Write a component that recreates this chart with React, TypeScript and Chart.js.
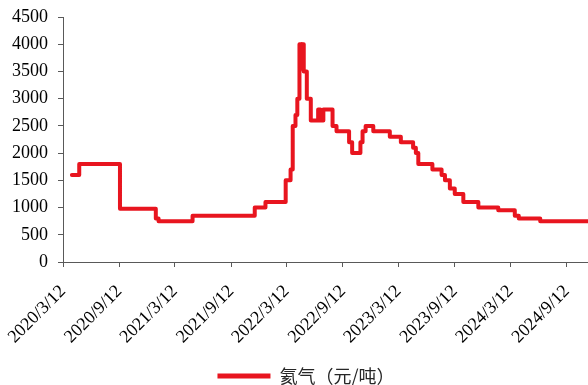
import React, { useEffect, useRef } from 'react';
import { Chart, registerables } from 'chart.js';

Chart.register(...registerables);

const seriesName = '氦气（元/吨）';
const axisStartDate = '2020/3/12';
const axisEndDate = '2024/11/20';

const changeDates = [
  '2020/4/10', '2020/5/4', '2020/9/14', '2021/1/9', '2021/1/18', '2021/5/9',
  '2021/11/28', '2022/1/2', '2022/3/9', '2022/3/25', '2022/4/1', '2022/4/10',
  '2022/4/16', '2022/4/23', '2022/4/29', '2022/5/2', '2022/5/7', '2022/5/17',
  '2022/5/30', '2022/6/23', '2022/6/30', '2022/7/10', '2022/8/9', '2022/8/22',
  '2022/10/2', '2022/10/12', '2022/11/8', '2022/11/15', '2022/11/25', '2022/12/20',
  '2023/2/12', '2023/3/20', '2023/4/29', '2023/5/8', '2023/5/16', '2023/7/1',
  '2023/7/31', '2023/8/11', '2023/8/27', '2023/9/12', '2023/10/10', '2023/11/28',
  '2024/2/1', '2024/3/26', '2024/4/8', '2024/6/17', '2024/11/30',
];

const prices = [
  1600, 1800, 980, 800, 750, 850,
  1000, 1100, 1500, 1700, 2500, 2700,
  3000, 4000, 3550, 4000, 3500, 3000,
  2600, 2800, 2600, 2800, 2500, 2400,
  2200, 2000, 2200, 2400, 2500, 2400,
  2300, 2200, 2100, 2000, 1800, 1700,
  1600, 1500, 1350, 1250, 1100, 1000,
  950, 850, 800, 750, 750,
];

const tickLabels = [
  '2020/3/12', '2020/9/12', '2021/3/12', '2021/9/12', '2022/3/12',
  '2022/9/12', '2023/3/12', '2023/9/12', '2024/3/12', '2024/9/12',
];

const yMin = 0;
const yMax = 4500;
const yStep = 500;

function dayIndex(s: string): number {
  const [y, m, d] = s.split('/').map(Number);
  const [y0, m0, d0] = axisStartDate.split('/').map(Number);
  return Math.round((Date.UTC(y, m - 1, d) - Date.UTC(y0, m0 - 1, d0)) / 86400000);
}

const legendShift = {
  id: 'legendShift',
  afterLayout(chart: any) {
    if (chart.legend) {
      chart.legend.left += 12;
      chart.legend.right += 12;
    }
  },
};

export default function App() {
  const ref = useRef<HTMLCanvasElement | null>(null);

  useEffect(() => {
    if (!ref.current) return;
    const points = changeDates.map((d, i) => ({ x: dayIndex(d), y: prices[i] }));
    const tickValues = tickLabels.map(dayIndex);
    const axisColor = '#595959';
    const red = '#E8151F';
    const chart = new Chart(ref.current, {
      type: 'line',
      data: {
        datasets: [
          {
            label: seriesName,
            data: points,
            stepped: true,
            borderColor: red,
            backgroundColor: red,
            borderWidth: 4,
            pointRadius: 0,
            borderJoinStyle: 'round',
            borderCapStyle: 'round',
          },
        ],
      },
      plugins: [legendShift],
      options: {
        responsive: false,
        animation: false,
        layout: { autoPadding: false, padding: { top: 17, left: 0, right: 0, bottom: -10 } },
        plugins: {
          tooltip: { enabled: false },
          legend: {
            position: 'bottom',
            labels: {
              font: { family: '"Noto Sans CJK SC"', size: 18 },
              color: '#262626',
              boxWidth: 53,
              boxHeight: 5,
              padding: 0,
              generateLabels: (c: any) => {
                const items = Chart.defaults.plugins.legend.labels.generateLabels(c);
                return items.map((it: any) => ({ ...it, lineWidth: 0, fillStyle: red }));
              },
            },
          },
        },
        scales: {
          x: {
            type: 'linear',
            min: dayIndex(axisStartDate),
            max: dayIndex(axisEndDate),
            bounds: 'data',
            afterBuildTicks: (scale: any) => {
              scale.ticks = tickValues.map((v) => ({ value: v }));
            },
            afterFit: (scale: any) => {
              scale.height = 105;
              scale.paddingLeft = 0;
              scale.paddingRight = 0;
            },
            grid: {
              display: true,
              drawOnChartArea: false,
              drawTicks: true,
              tickLength: 5,
              color: axisColor,
            },
            border: { display: true, color: axisColor, width: 1 },
            ticks: {
              autoSkip: false,
              minRotation: 45,
              maxRotation: 45,
              padding: 14,
              color: '#000',
              font: { family: '"Liberation Serif"', size: 18 },
              callback: (_v: any, i: number) => tickLabels[i],
            },
          },
          y: {
            min: yMin,
            max: yMax,
            afterFit: (scale: any) => {
              scale.width = 63;
              scale.paddingTop = 0;
              scale.paddingBottom = 0;
            },
            grid: {
              display: true,
              drawOnChartArea: false,
              drawTicks: true,
              tickLength: 5,
              color: axisColor,
            },
            border: { display: true, color: axisColor, width: 1 },
            ticks: {
              stepSize: yStep,
              padding: 10,
              color: '#000',
              font: { family: '"Liberation Serif"', size: 18 },
              callback: (v: any) => String(v),
            },
          },
        },
      },
    });
    return () => chart.destroy();
  }, []);

  return (
    <div style={{ position: 'absolute', left: 0, top: 0, width: 588, height: 385 }}>
      <canvas ref={ref} width={588} height={385} style={{ display: 'block' }} />
    </div>
  );
}
